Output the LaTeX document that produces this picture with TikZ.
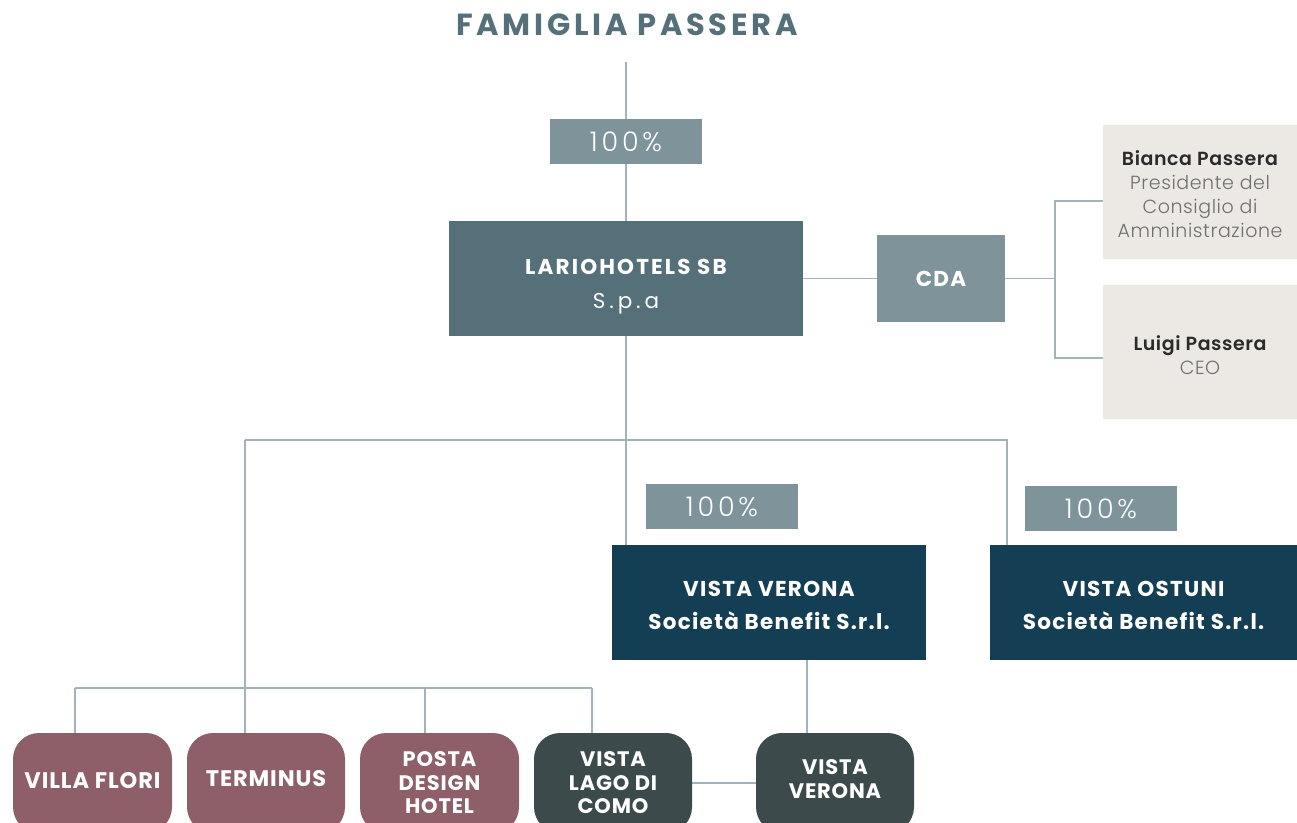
\documentclass[tikz,border=0pt]{standalone}
\usepackage{fontspec}
\setmainfont{Poppins}
\newfontfamily\lightfont{Poppins Light}
\usetikzlibrary{calc,backgrounds}
\definecolor{titlec}{HTML}{557079}
\definecolor{pctc}{HTML}{7E939A}
\definecolor{larioc}{HTML}{557079}
\definecolor{peoplec}{HTML}{ECE9E5}
\definecolor{namec}{HTML}{2B2B2B}
\definecolor{rolec}{HTML}{6F6F6F}
\definecolor{navyc}{HTML}{143E54}
\definecolor{mauvec}{HTML}{8E5F68}
\definecolor{darkc}{HTML}{3C4A4B}
\definecolor{linec}{HTML}{A3B3BA}
\tikzset{
  conn/.style={draw=linec, line width=1.8pt},
  box/.style={inner sep=0pt, align=center, text=white},
  pctbox/.style={box, fill=pctc, minimum width=152pt, minimum height=45pt, font=\lightfont\addfontfeature{LetterSpace=14}\fontsize{27}{27}\selectfont},
  bigbox/.style={box, minimum height=115pt},
  bigtxt/.style={text=white, align=center, inner sep=0pt, font=\bfseries\addfontfeature{LetterSpace=6}\fontsize{21.5}{33.5}\selectfont},
  peoplebox/.style={box, fill=peoplec, minimum width=194pt, minimum height=134pt},
  ppltxt/.style={text=rolec, align=center, inner sep=0pt, font=\lightfont\addfontfeature{LetterSpace=3}\fontsize{19}{24}\selectfont},
  hotel/.style={box, rounded corners=26pt, minimum width=158pt, minimum height=100pt, font=\bfseries\addfontfeature{LetterSpace=4}\fontsize{21}{23.5}\selectfont},
  hoteltxt/.style={text=white, align=center, inner sep=0pt, font=\bfseries\addfontfeature{LetterSpace=4}\fontsize{22.5}{23.5}\selectfont},
}
\begin{document}
\begin{tikzpicture}[x=1pt,y=-1pt]
\useasboundingbox (0,0) rectangle (1297,822);
\clip (0,0) rectangle (1297,822);
% title
\node[font=\bfseries\addfontfeature{LetterSpace=12}\fontsize{30.5}{30.5}\selectfont, text=titlec] (title) at (627,25) {FAMIGLIA PASSERA};
\coordinate (top) at (626,62);
% main boxes
\node[pctbox] (p1) at (626,141.5) {100\%};
\node[bigbox, fill=larioc, minimum width=354pt,
  label={[bigtxt, yshift=-8pt]center:{\addfontfeature{LetterSpace=10}LARIOHOTELS SB\\{\mdseries\addfontfeature{LetterSpace=18}S.p.a}}}] (lario) at (626,278.5) {};
\node[box, fill=pctc, minimum width=128pt, minimum height=87pt, font=\bfseries\addfontfeature{LetterSpace=6}\fontsize{21.5}{21.5}\selectfont] (cda) at (941,278.5) {CDA};
\node[peoplebox, label={[ppltxt, yshift=-2.5pt]center:{{\bfseries\color{namec}Bianca Passera}\\Presidente del\\Consiglio di\\Amministrazione}}] (bianca) at (1200,192) {};
\node[peoplebox, label={[ppltxt, yshift=-3pt]center:{{\bfseries\color{namec}Luigi Passera}\\CEO}}] (luigi) at (1200,352) {};
\node[pctbox] (p2) at (722,506.5) {100\%};
\node[pctbox] (p3) at (1101,508.5) {100\%};
\node[bigbox, fill=navyc, minimum width=314pt, label={[bigtxt, yshift=-3pt]center:{VISTA VERONA\\Società Benefit S.r.l.}}] (vv) at (769,602.5) {};
\node[bigbox, fill=navyc, minimum width=307pt, label={[bigtxt, yshift=-3pt]center:{VISTA OSTUNI\\Società Benefit S.r.l.}}] (vo) at (1143.5,602.5) {};
% hotels
\node[hotel, fill=mauvec, minimum width=159pt, label={[hoteltxt, yshift=2pt]center:{VILLA FLORI}}] (vf) at (92.5,783) {};
\node[hotel, fill=mauvec, label={[hoteltxt, yshift=4pt]center:{TERMINUS}}] (te) at (266,783) {};
\node[hotel, fill=mauvec, minimum width=159pt] (po) at (439.5,783) {POSTA\\DESIGN\\HOTEL};
\node[hotel, fill=darkc] (vl) at (613,783) {VISTA\\LAGO DI\\COMO};
\node[hotel, fill=darkc, label={[hoteltxt, yshift=4pt, font=\bfseries\addfontfeature{LetterSpace=4}\fontsize{21}{23.5}\selectfont]center:{VISTA\\VERONA}}] (vs) at (835,783) {};
% junction coordinates
\coordinate (cdaJ) at (1055,278.5);
\coordinate (hL) at (245,440);
\coordinate (hR) at (1007,440);
\coordinate (bL) at (75,688);
\coordinate (bM) at (245,688);
\coordinate (bP) at (425,688);
\coordinate (bR) at (592,688);
% connectors
\begin{scope}[on background layer]
\draw[conn] (top) -- (lario.north);
\draw[conn] (lario.east) -- (cda.west);
\draw[conn] (cda.east) -- (cdaJ);
\draw[conn] ([yshift=-9pt]bianca.west) -| (cdaJ) |- ([yshift=-6pt]luigi.west);
\draw[conn] (lario.south) -- (lario.south |- vv.north);
\draw[conn] (hL) -- (hR) -- (hR |- vo.north);
\draw[conn] (hL) -- (bM) -- (bM |- te.north);
\draw[conn] (bL) -- (bR);
\draw[conn] (bL) -- (bL |- vf.north);
\draw[conn] (bP) -- (bP |- po.north);
\draw[conn] (bR) -- (bR |- vl.north);
\draw[conn] ([xshift=38pt]vv.south) -- ([xshift=38pt]vv.south |- vs.north);
\draw[conn] (vl.east) -- (vs.west);
\end{scope}
\end{tikzpicture}
\end{document}
